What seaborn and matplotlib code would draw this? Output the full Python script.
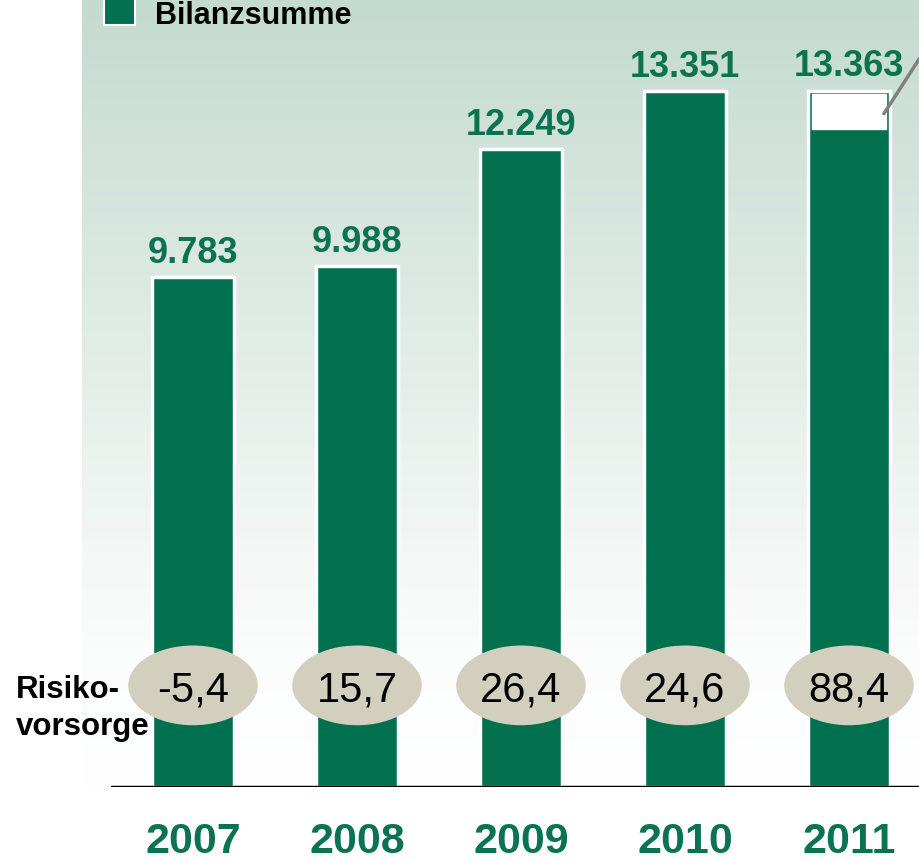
'''Bilanzsumme und Risikovorsorge 2007-2011'''

import matplotlib
matplotlib.use('Agg')
import matplotlib.pyplot as plt
from matplotlib.patches import Ellipse, Rectangle
from matplotlib.colors import LinearSegmentedColormap
import seaborn as sns
import pandas as pd
import numpy as np

# data
years = ['2007', '2008', '2009', '2010', '2011']
bilanzsumme = [9783, 9988, 12249, 13351, 13363]
bilanz_labels = ['9.783', '9.988', '12.249', '13.351', '13.363']
risikovorsorge = ['-5,4', '15,7', '26,4', '24,6', '88,4']
# highlighted top part of the 2011 bar
segment_2011 = (12630, 13300)

GREEN = '#00704f'
LABEL_GREEN = '#0b7352'
OVAL = '#d3cfbf'
FONT = ['Liberation Sans', 'DejaVu Sans']

sns.set_theme(style='white')
plt.rcParams['font.family'] = FONT

W, H = 919, 862
fig = plt.figure(figsize=(W / 100, H / 100), dpi=100)

# gradient background panel
bg = fig.add_axes([82 / W, 72 / H, 1 - 82 / W, 1 - 72 / H])
cmap = LinearSegmentedColormap.from_list('bg', [(0, '#c4dbcf'), (0.82, '#fbfcfc'), (1, '#ffffff')])
grad = np.linspace(0, 1, 256).reshape(-1, 1)
bg.imshow(grad, aspect='auto', cmap=cmap, extent=[0, 1, 0, 1], origin='upper')
bg.set_axis_off()

# main axes, baseline at y=787 px
ax = fig.add_axes([111 / W, 74 / H, (W - 111) / W, (H - 74) / H])
ax.patch.set_alpha(0)

df = pd.DataFrame({'Jahr': years, 'Bilanzsumme': bilanzsumme})
sns.barplot(data=df, x='Jahr', y='Bilanzsumme', color=GREEN, saturation=1,
            width=0.5, edgecolor='white', linewidth=2.5, ax=ax, zorder=2)

ax.set_xlim(-0.5, (W - 111) / 164 - 0.5)
ax.set_ylim(0, 15120)
ax.axhline(0, color='black', lw=2.5, zorder=3)
ax.set_axis_off()

# white part on top of the 2011 bar
ax.bar(4, segment_2011[1] - segment_2011[0], bottom=segment_2011[0], width=0.455,
       color='white', zorder=3)
ax.plot([4.213, 4.43], [12920, 13980], color='#808080', lw=2.5, clip_on=False, zorder=4)

for i, (val, lab) in enumerate(zip(bilanzsumme, bilanz_labels)):
    ax.text(i, val + 290, lab, ha='center', va='baseline', fontsize=26,
            fontweight='bold', color=LABEL_GREEN, zorder=4)

# Risikovorsorge ovals
for i, r in enumerate(risikovorsorge):
    ax.add_patch(Ellipse((i, 1950), 0.79, 1530, facecolor=OVAL, edgecolor='none', zorder=4))
    ax.text(i, 1950, r, ha='center', va='center_baseline', fontsize=30,
            color='black', zorder=5)

for i, y in enumerate(years):
    fig.text((111 + (i + 0.5) * 164) / W, 1 - 842 / H, y, ha='center', va='center',
             fontsize=31, fontweight='bold', color=LABEL_GREEN)

fig.text(16 / W, 1 - 690 / H, 'Risiko-', ha='left', va='center', fontsize=22.5,
         fontweight='bold', color='black')
fig.text(16 / W, 1 - 727 / H, 'vorsorge', ha='left', va='center', fontsize=22.5,
         fontweight='bold', color='black')

# legend
fig.patches.append(Rectangle((104 / W, 1 - 26 / H), 31 / W, 30 / H, transform=fig.transFigure,
                             facecolor=GREEN, edgecolor='white', lw=1.5, zorder=5))
fig.text(155 / W, 1 - 24 / H, 'Bilanzsumme', ha='left', va='baseline', fontsize=22,
         fontweight='bold', color='black')

plt.savefig('out.png', dpi=100)
